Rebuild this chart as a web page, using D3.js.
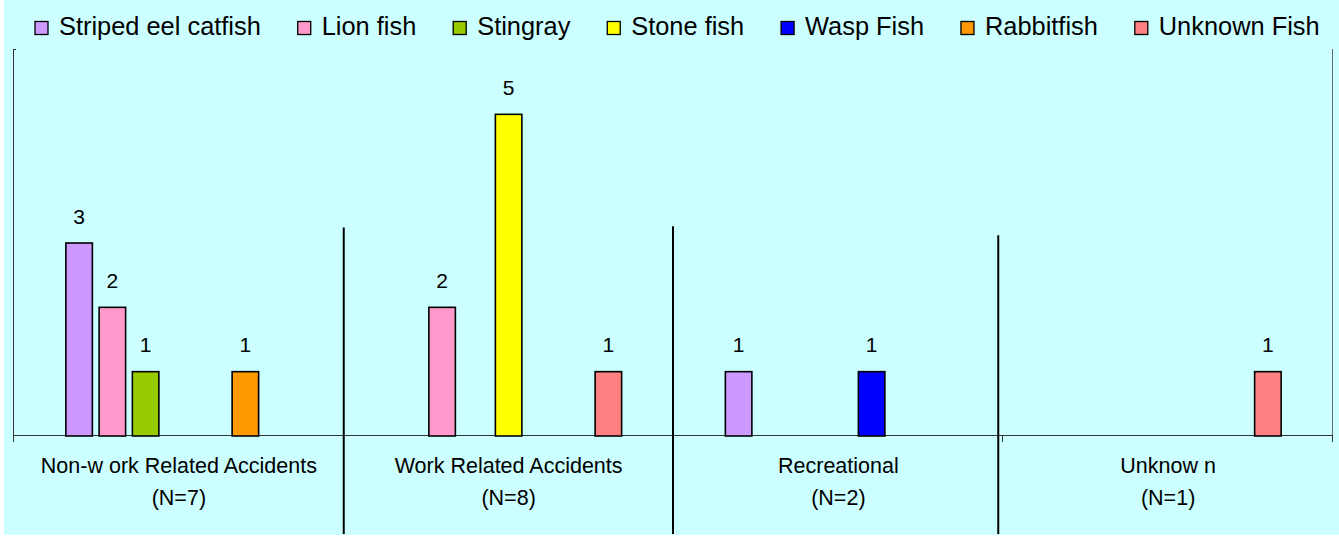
<!DOCTYPE html>
<html>
<head>
<meta charset="utf-8">
<script src="https://cdn.jsdelivr.net/npm/d3@7"></script>
<style>
  html, body { margin: 0; padding: 0; background: #ffffff; }
  svg { display: block; }
  text { font-family: Arial, "Liberation Sans", sans-serif; fill: #000; }
</style>
</head>
<body>
<svg id="chart" width="1339" height="536"></svg>
<script>
// ---- data ----
const categories = ["Non-w ork Related Accidents", "Work Related Accidents", "Recreational", "Unknow n"];
const categoryN = ["(N=7)", "(N=8)", "(N=2)", "(N=1)"];
const seriesNames = ["Striped eel catfish", "Lion fish", "Stingray", "Stone fish", "Wasp Fish", "Rabbitfish", "Unknown Fish"];
const seriesColors = ["#CC99FF", "#FF99CC", "#99CC00", "#FFFF00", "#0000FF", "#FF9900", "#FF8080"];
// values per series, in category order (null = no bar)
const stripedEel = [3, null, 1, null];
const lionFish   = [2, 2, null, null];
const stingray   = [1, null, null, null];
const stoneFish  = [null, 5, null, null];
const waspFish   = [null, null, 1, null];
const rabbitfish = [1, null, null, null];
const unknownFish = [null, 1, null, 1];
const seriesValues = [stripedEel, lionFish, stingray, stoneFish, waspFish, rabbitfish, unknownFish];
const yDomain = [0, 6];

// ---- layout ----
const W = 1339, H = 536;
const plot = { left: 14, right: 1333, top: 50, bottom: 436 };
const svg = d3.select("#chart");

svg.append("rect").attr("x", 4).attr("y", 0).attr("width", W - 4).attr("height", H - 1)
  .attr("fill", "#CCFFFF");

const x0 = d3.scaleBand().domain(categories).range([plot.left, plot.right]).padding(0);
const x1 = d3.scaleBand().domain(seriesNames).range([0, x0.bandwidth()])
  .paddingInner(0.203).paddingOuter(1.56).align(0.5);
const y = d3.scaleLinear().domain(yDomain).range([plot.bottom, plot.top]);
const color = d3.scaleOrdinal().domain(seriesNames).range(seriesColors);

// flatten data
const bars = [];
seriesNames.forEach((s, si) => {
  categories.forEach((c, ci) => {
    const v = seriesValues[si][ci];
    if (v != null) bars.push({ series: s, cat: c, value: v });
  });
});

// axes lines
const axisColor = "#333333";
// left value axis
svg.append("line").attr("x1", plot.left - 0.5).attr("x2", plot.left - 0.5)
  .attr("y1", y(yDomain[1]) - 1).attr("y2", plot.bottom + 6)
  .attr("stroke", axisColor).attr("stroke-width", 1);
svg.append("line").attr("x1", plot.left - 0.5).attr("x2", plot.left + 2)
  .attr("y1", y(yDomain[1]) - 0.5).attr("y2", y(yDomain[1]) - 0.5)
  .attr("stroke", axisColor).attr("stroke-width", 1);
// right line
svg.append("line").attr("x1", plot.right - 0.5).attr("x2", plot.right - 0.5)
  .attr("y1", y(yDomain[1]) - 1).attr("y2", plot.bottom + 6)
  .attr("stroke", "#666666").attr("stroke-width", 1);

// category axis baseline + ticks at group boundaries
svg.append("line").attr("x1", plot.left).attr("x2", plot.right)
  .attr("y1", plot.bottom - 0.5).attr("y2", plot.bottom - 0.5)
  .attr("stroke", axisColor).attr("stroke-width", 1);
const boundaries = categories.map(c => x0(c)).concat([plot.right]);
svg.selectAll(".tick").data(boundaries).enter().append("line")
  .attr("x1", d => Math.round(d) - 0.5).attr("x2", d => Math.round(d) - 0.5)
  .attr("y1", plot.bottom).attr("y2", plot.bottom + 6)
  .attr("stroke", axisColor).attr("stroke-width", 1);

// bars
svg.selectAll(".bar").data(bars).enter().append("rect")
  .attr("x", d => x0(d.cat) + x1(d.series))
  .attr("y", d => y(d.value))
  .attr("width", x1.bandwidth())
  .attr("height", d => y(0) - y(d.value))
  .attr("fill", d => color(d.series))
  .attr("stroke", "#000").attr("stroke-width", 1.6);

// value labels
svg.selectAll(".vlabel").data(bars).enter().append("text")
  .attr("x", d => x0(d.cat) + x1(d.series) + x1.bandwidth() / 2)
  .attr("y", d => y(d.value) - 19.5)
  .attr("text-anchor", "middle")
  .attr("font-size", "21px")
  .text(d => d.value);

// separators between groups (hand-drawn in the original, slightly offset)
const sepShift = [0, -0.5, -5];
const sepTop = [3.24, 3.26, 3.12];
svg.selectAll(".sep").data(categories.slice(1)).enter().append("line")
  .attr("x1", (d, i) => x0(d) + sepShift[i]).attr("x2", (d, i) => x0(d) + sepShift[i])
  .attr("y1", (d, i) => y(sepTop[i])).attr("y2", H - 2)
  .attr("stroke", "#000").attr("stroke-width", 2);

// category labels
const catG = svg.selectAll(".cat").data(categories).enter().append("text")
  .attr("text-anchor", "middle")
  .attr("font-size", "21.5px")
  .attr("x", d => x0(d) + x0.bandwidth() / 2);
catG.append("tspan").attr("x", d => x0(d) + x0.bandwidth() / 2).attr("y", 473).text(d => d);
catG.append("tspan").attr("x", d => x0(d) + x0.bandwidth() / 2).attr("y", 505)
  .text((d, i) => categoryN[i]);

// legend
const legend = svg.append("g");
let lx = 35;
seriesNames.forEach((s, i) => {
  const g = legend.append("g");
  g.append("rect").attr("x", lx).attr("y", 21.5).attr("width", 13).attr("height", 13)
    .attr("fill", color(s)).attr("stroke", "#000").attr("stroke-width", 1.3);
  const t = g.append("text").attr("x", lx + 24).attr("y", 35).attr("font-size", "25.4px").text(s);
  lx += 24 + t.node().getComputedTextLength() + 36.9;
});
</script>
</body>
</html>
